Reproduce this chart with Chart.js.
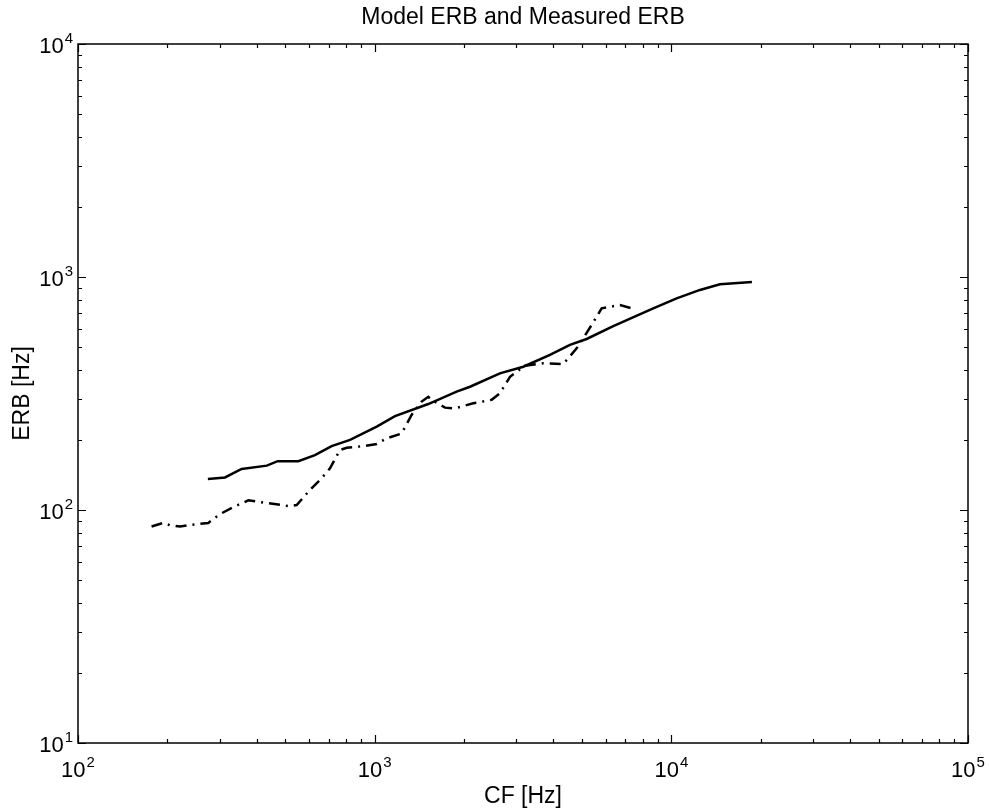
<!DOCTYPE html>
<html>
<head>
<meta charset="utf-8">
<title>Model ERB and Measured ERB</title>
<script src="https://cdn.jsdelivr.net/npm/chart.js@4.4.0/dist/chart.umd.min.js"></script>
<style>
  html, body { margin: 0; padding: 0; background: #fff; }
  #wrap { width: 989px; height: 811px; }
</style>
</head>
<body>
<div id="wrap"><canvas id="erb" width="989" height="811"></canvas></div>
<script>
// model ERB (solid line)
var modelCf  = [274, 313, 356, 433, 471, 553, 629, 716, 826, 1016, 1171, 1516, 1889, 2096, 2644,
                3169, 3898, 4552, 5182, 6373, 8690, 10420, 12490, 14580, 18690];
var modelErb = [136, 138, 150, 155, 162, 162, 172, 188, 200, 228, 253, 285, 322, 338, 386,
                412, 463, 511, 542, 616, 734, 810, 880, 930, 952];

// measured ERB (dash-dot line)
var measCf  = [177, 194, 204, 221, 251, 275, 301, 334, 375, 438, 511, 546, 605, 663, 707, 764,
               805, 915, 1016, 1098, 1233, 1332, 1440, 1516, 1556, 1726, 1865, 2149, 2479, 2644,
               2858, 3210, 3701, 4323, 4796, 5386, 5823, 6713, 7347];
var measErb = [85, 88, 86, 85, 87, 88, 96, 103, 110, 107, 104, 105, 122, 137, 151, 181,
               185, 188, 192, 203, 213, 256, 292, 306, 297, 275, 273, 287, 297, 317,
               373, 416, 426, 423, 494, 622, 734, 758, 734];

// decade exponents used for the tick labels
var xDecades = [2, 3, 4, 5];
var yDecades = [1, 2, 3, 4];

var fonte = '"Liberation Sans", Arial, Helvetica, sans-serif';

function pontos(xs, ys) {
    var out = [];
    for (var i = 0; i < xs.length; i++) out.push({ x: xs[i], y: ys[i] });
    return out;
}

function menores(decades) {
    var vals = [];
    for (var i = 0; i < decades.length - 1; i++)
        for (var m = 2; m <= 9; m++) vals.push(m * Math.pow(10, decades[i]));
    return vals;
}

function potencia(ctx, x, base, exp, align) {
    ctx.font = '22px ' + fonte;
    var wBase = ctx.measureText('10').width;
    ctx.font = '15px ' + fonte;
    var wExp = ctx.measureText(String(exp)).width;
    var total = wBase + 1 + wExp;
    var left = align === 'right' ? x - total : x - total / 2;
    ctx.textAlign = 'left';
    ctx.textBaseline = 'alphabetic';
    ctx.font = '22px ' + fonte;
    ctx.fillText('10', left, base);
    ctx.font = '15px ' + fonte;
    ctx.fillText(String(exp), left + wBase + 1, base - 10);
}

// box, inward ticks on all four sides and 10^n labels
var caixaEixos = {
    id: 'caixaEixos',
    afterDraw: function(chart) {
        var ctx = chart.ctx, a = chart.chartArea;
        var sx = chart.scales.x, sy = chart.scales.y;
        var maior = 8, menor = 4;

        ctx.save();
        ctx.strokeStyle = '#000';
        ctx.lineWidth = 1.5;
        ctx.strokeRect(a.left, a.top, a.right - a.left, a.bottom - a.top);

        ctx.lineWidth = 1.2;
        ctx.beginPath();
        function tickX(v, len) {
            var px = Math.round(sx.getPixelForValue(v)) + 0.5;
            ctx.moveTo(px, a.bottom); ctx.lineTo(px, a.bottom - len);
            ctx.moveTo(px, a.top); ctx.lineTo(px, a.top + len);
        }
        function tickY(v, len) {
            var py = Math.round(sy.getPixelForValue(v)) + 0.5;
            ctx.moveTo(a.left, py); ctx.lineTo(a.left + len, py);
            ctx.moveTo(a.right, py); ctx.lineTo(a.right - len, py);
        }
        xDecades.forEach(function(e) { tickX(Math.pow(10, e), maior); });
        menores(xDecades).forEach(function(v) { tickX(v, menor); });
        yDecades.forEach(function(e) { tickY(Math.pow(10, e), maior); });
        menores(yDecades).forEach(function(v) { tickY(v, menor); });
        ctx.stroke();

        ctx.fillStyle = '#000';
        xDecades.forEach(function(e) {
            potencia(ctx, sx.getPixelForValue(Math.pow(10, e)), a.bottom + 34, e, 'center');
        });
        yDecades.forEach(function(e) {
            potencia(ctx, a.left - 5, sy.getPixelForValue(Math.pow(10, e)) + 9, e, 'right');
        });
        ctx.restore();
    }
};

new Chart(document.getElementById('erb'), {
    type: 'line',
    data: {
        datasets: [{
            label: 'Model ERB',
            data: pontos(modelCf, modelErb),
            borderColor: '#000',
            backgroundColor: 'transparent',
            borderWidth: 2.5,
            pointRadius: 0,
            tension: 0
        }, {
            label: 'Measured ERB',
            data: pontos(measCf, measErb),
            borderColor: '#000',
            backgroundColor: 'transparent',
            borderWidth: 2.5,
            borderDash: [11, 6, 2, 6],
            pointRadius: 0,
            tension: 0
        }]
    },
    options: {
        responsive: false,
        animation: false,
        devicePixelRatio: 1,
        layout: { padding: { top: 0, right: 21, bottom: 0, left: 0 } },
        plugins: {
            legend: { display: false },
            tooltip: { enabled: false },
            title: {
                display: true,
                text: 'Model ERB and Measured ERB',
                fullSize: false,
                color: '#000',
                font: { family: fonte, size: 23, weight: 'normal', lineHeight: 1.2 },
                padding: { top: 4, bottom: 12.4 }
            }
        },
        scales: {
            x: {
                type: 'logarithmic',
                min: 100, max: 100000,
                grid: { display: false },
                border: { display: false },
                ticks: { display: false },
                title: {
                    display: true, text: 'CF [Hz]', color: '#000',
                    font: { family: fonte, size: 23, lineHeight: 1.2 },
                    padding: { top: 0, bottom: 1 }
                },
                afterFit: function(s) { s.height = 68; }
            },
            y: {
                type: 'logarithmic',
                min: 10, max: 10000,
                grid: { display: false },
                border: { display: false },
                ticks: { display: false },
                title: {
                    display: true, text: 'ERB [Hz]', color: '#000',
                    font: { family: fonte, size: 23, lineHeight: 1.2 },
                    padding: { top: 9, bottom: 0 }
                },
                afterFit: function(s) { s.width = 78; }
            }
        }
    },
    plugins: [caixaEixos]
});
</script>
</body>
</html>
